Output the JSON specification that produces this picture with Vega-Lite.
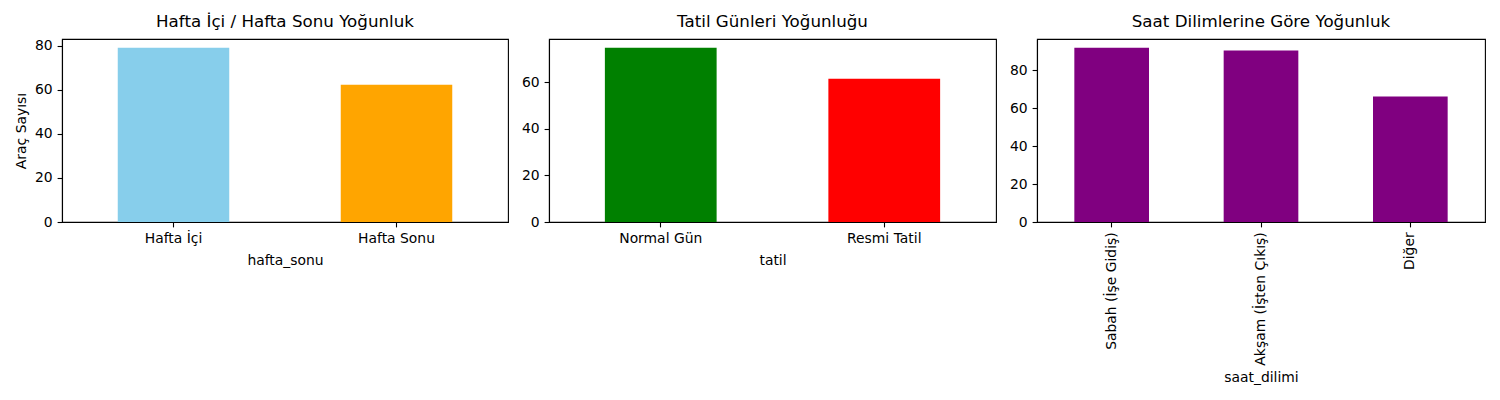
{
  "$schema": "https://vega.github.io/schema/vega-lite/v6.json",
  "padding": {"left": 14, "top": 13, "right": 0, "bottom": 0},
  "background": "white",
  "spacing": 41,
  "bounds": "flush",
  "resolve": {"scale": {"color": "independent"}},
  "datasets": {
    "hafta": [
      {"hafta_sonu": "Hafta İçi", "arac_sayisi": 79.1},
      {"hafta_sonu": "Hafta Sonu", "arac_sayisi": 62.3}
    ],
    "tatil": [
      {"tatil": "Normal Gün", "arac_sayisi": 74.7},
      {"tatil": "Resmi Tatil", "arac_sayisi": 61.4}
    ],
    "saat": [
      {"saat_dilimi": "Sabah (İşe Gidiş)", "arac_sayisi": 91.9},
      {"saat_dilimi": "Akşam (İşten Çıkış)", "arac_sayisi": 90.4},
      {"saat_dilimi": "Diğer", "arac_sayisi": 66.2}
    ]
  },
  "hconcat": [
    {
      "title": "Hafta İçi / Hafta Sonu Yoğunluk",
      "width": 446,
      "height": 183,
      "data": {"name": "hafta"},
      "mark": {"type": "bar"},
      "encoding": {
        "x": {"field": "hafta_sonu", "type": "nominal", "sort": null,
              "scale": {"paddingInner": 0.5, "paddingOuter": 0.25},
              "axis": {"labelAngle": 0, "title": "hafta_sonu", "titlePadding": 7.6}},
        "y": {"field": "arac_sayisi", "type": "quantitative",
              "scale": {"domain": [0, 83.06], "nice": false},
              "axis": {"values": [0, 20, 40, 60, 80], "title": "Araç Sayısı"}},
        "color": {"field": "hafta_sonu", "type": "nominal", "legend": null,
                  "scale": {"domain": ["Hafta İçi", "Hafta Sonu"], "range": ["#87CEEB", "#FFA500"]}}
      }
    },
    {
      "title": "Tatil Günleri Yoğunluğu",
      "width": 447,
      "height": 183,
      "data": {"name": "tatil"},
      "mark": {"type": "bar"},
      "encoding": {
        "x": {"field": "tatil", "type": "nominal", "sort": null,
              "scale": {"paddingInner": 0.5, "paddingOuter": 0.25},
              "axis": {"labelAngle": 0, "title": "tatil", "titlePadding": 7.6}},
        "y": {"field": "arac_sayisi", "type": "quantitative",
              "scale": {"domain": [0, 78.44], "nice": false},
              "axis": {"values": [0, 20, 40, 60], "title": null}},
        "color": {"field": "tatil", "type": "nominal", "legend": null,
                  "scale": {"domain": ["Normal Gün", "Resmi Tatil"], "range": ["#008000", "#FF0000"]}}
      }
    },
    {
      "title": "Saat Dilimlerine Göre Yoğunluk",
      "width": 448,
      "height": 183,
      "data": {"name": "saat"},
      "mark": {"type": "bar", "color": "#800080"},
      "encoding": {
        "x": {"field": "saat_dilimi", "type": "nominal", "sort": null,
              "scale": {"paddingInner": 0.5, "paddingOuter": 0.25},
              "axis": {"labelAngle": -90, "title": "saat_dilimi"}},
        "y": {"field": "arac_sayisi", "type": "quantitative",
              "scale": {"domain": [0, 96.5], "nice": false},
              "axis": {"values": [0, 20, 40, 60, 80], "title": null}}
      }
    }
  ],
  "config": {
    "font": "DejaVu Sans",
    "view": {"stroke": "#000000", "strokeWidth": 1.1},
    "title": {"fontSize": 16.7, "fontWeight": "normal", "color": "#000000", "offset": 8, "font": "DejaVu Sans"},
    "axis": {
      "grid": false,
      "domainColor": "#000000",
      "domainWidth": 1.1,
      "tickColor": "#000000",
      "tickWidth": 1.1,
      "tickSize": 4.9,
      "labelPadding": 4.9,
      "labelFontSize": 13.9,
      "labelColor": "#000000",
      "labelFont": "DejaVu Sans",
      "titleFontSize": 13.9,
      "titleFontWeight": "normal",
      "titleColor": "#000000",
      "titleFont": "DejaVu Sans",
      "titlePadding": 5.6
    }
  }
}
